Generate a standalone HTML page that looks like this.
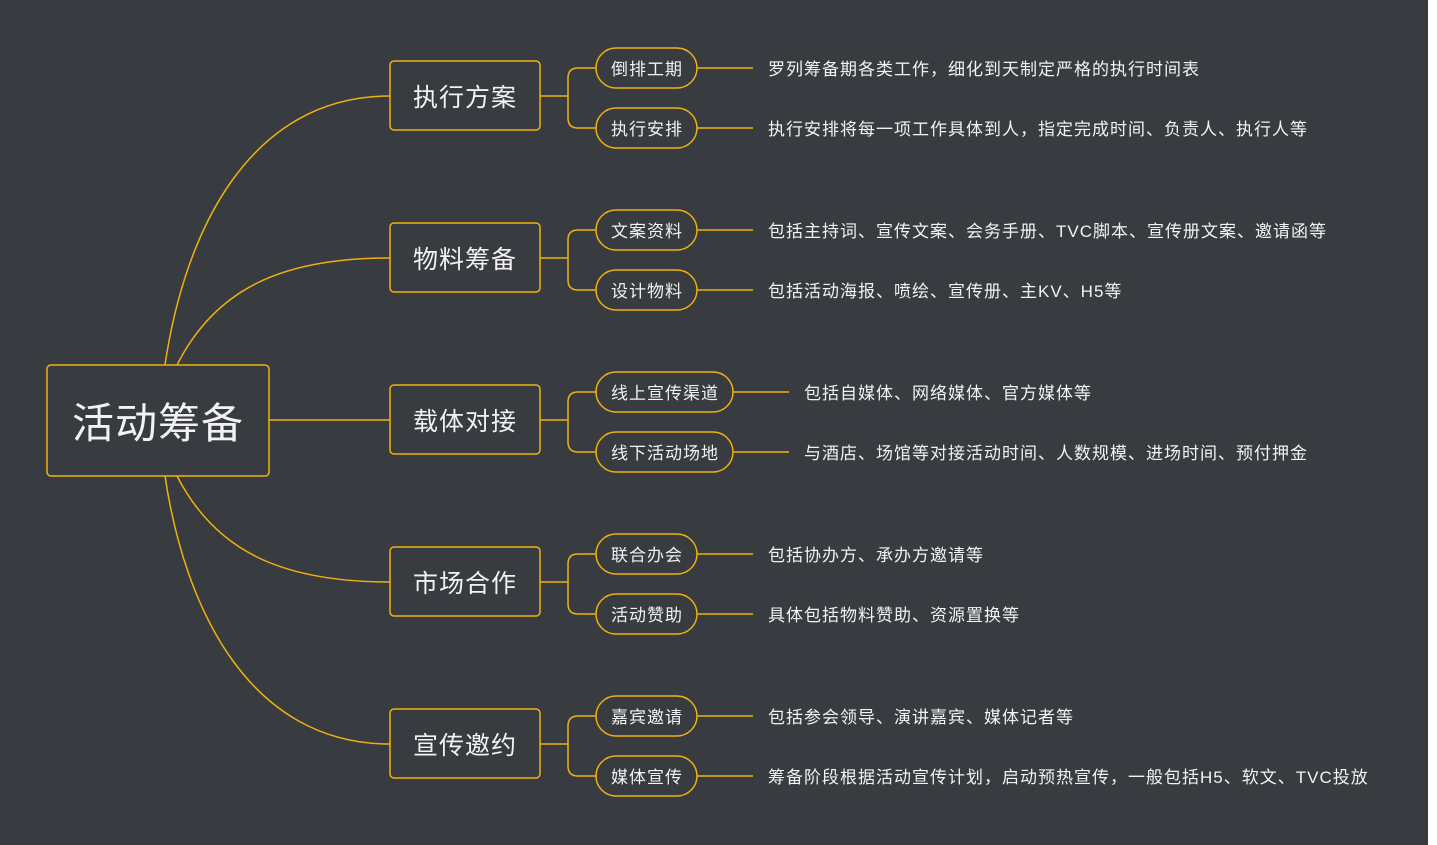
<!DOCTYPE html>
<html><head><meta charset="utf-8"><style>
body{margin:0;width:1437px;height:845px;background:#fff;overflow:hidden;font-family:"Liberation Sans","Noto Sans CJK SC",sans-serif;}
#bg{position:absolute;left:0;top:0;width:1428px;height:845px;background:#383b40;}
.t{position:absolute;color:#f2f2f2;white-space:nowrap;}
</style></head><body>
<div id="bg"></div>
<svg width="1437" height="845" style="position:absolute;left:0;top:0" fill="none" stroke="#f0b10e" stroke-width="1.5">
<rect x="47" y="365" width="222" height="111" rx="4"/>
<path d="M165 365 C185 230 250 96 390 96"/>
<path d="M177 365 C215 290 280 258 390 258"/>
<path d="M269 420 H390"/>
<path d="M177 476 C215 550 280 582 390 582"/>
<path d="M165 476 C185 610 250 744 390 744"/>
<rect x="390" y="61" width="150" height="69" rx="4"/>
<rect x="390" y="223" width="150" height="69" rx="4"/>
<rect x="390" y="385" width="150" height="69" rx="4"/>
<rect x="390" y="547" width="150" height="69" rx="4"/>
<rect x="390" y="709" width="150" height="69" rx="4"/>
<path d="M540 96 H568 M596 68 H578 Q568 68 568 78 V118 Q568 128 578 128 H596"/>
<path d="M540 258 H568 M596 230 H578 Q568 230 568 240 V280 Q568 290 578 290 H596"/>
<path d="M540 420 H568 M596 392 H578 Q568 392 568 402 V442 Q568 452 578 452 H596"/>
<path d="M540 582 H568 M596 554 H578 Q568 554 568 564 V604 Q568 614 578 614 H596"/>
<path d="M540 744 H568 M596 716 H578 Q568 716 568 726 V766 Q568 776 578 776 H596"/>
<rect x="596" y="48" width="101" height="40" rx="20"/><path d="M697 68 H753"/>
<rect x="596" y="108" width="101" height="40" rx="20"/><path d="M697 128 H753"/>
<rect x="596" y="210" width="101" height="40" rx="20"/><path d="M697 230 H753"/>
<rect x="596" y="270" width="101" height="40" rx="20"/><path d="M697 290 H753"/>
<rect x="596" y="372" width="137" height="40" rx="20"/><path d="M733 392 H789"/>
<rect x="596" y="432" width="137" height="40" rx="20"/><path d="M733 452 H789"/>
<rect x="596" y="534" width="101" height="40" rx="20"/><path d="M697 554 H753"/>
<rect x="596" y="594" width="101" height="40" rx="20"/><path d="M697 614 H753"/>
<rect x="596" y="696" width="101" height="40" rx="20"/><path d="M697 716 H753"/>
<rect x="596" y="756" width="101" height="40" rx="20"/><path d="M697 776 H753"/>
</svg>
<div class="t" style="left:47px;width:222px;text-align:center;top:396px;font-size:42px;line-height:56px;letter-spacing:1px">活动筹备</div>
<div style="font-size:25px;line-height:32px;letter-spacing:1px">
<div class="t" style="left:390px;width:150px;text-align:center;top:82px">执行方案</div>
<div class="t" style="left:390px;width:150px;text-align:center;top:244px">物料筹备</div>
<div class="t" style="left:390px;width:150px;text-align:center;top:406px">载体对接</div>
<div class="t" style="left:390px;width:150px;text-align:center;top:568px">市场合作</div>
<div class="t" style="left:390px;width:150px;text-align:center;top:730px">宣传邀约</div>
</div>
<div style="font-size:17px;line-height:24px;letter-spacing:1px">
<div class="t" style="left:611px;top:58px">倒排工期</div>
<div class="t" style="left:611px;top:118px">执行安排</div>
<div class="t" style="left:611px;top:220px">文案资料</div>
<div class="t" style="left:611px;top:280px">设计物料</div>
<div class="t" style="left:611px;top:382px">线上宣传渠道</div>
<div class="t" style="left:611px;top:442px">线下活动场地</div>
<div class="t" style="left:611px;top:544px">联合办会</div>
<div class="t" style="left:611px;top:604px">活动赞助</div>
<div class="t" style="left:611px;top:706px">嘉宾邀请</div>
<div class="t" style="left:611px;top:766px">媒体宣传</div>
<div class="t" style="left:768px;top:58px">罗列筹备期各类工作，细化到天制定严格的执行时间表</div>
<div class="t" style="left:768px;top:118px">执行安排将每一项工作具体到人，指定完成时间、负责人、执行人等</div>
<div class="t" style="left:768px;top:220px">包括主持词、宣传文案、会务手册、TVC脚本、宣传册文案、邀请函等</div>
<div class="t" style="left:768px;top:280px">包括活动海报、喷绘、宣传册、主KV、H5等</div>
<div class="t" style="left:804px;top:382px">包括自媒体、网络媒体、官方媒体等</div>
<div class="t" style="left:804px;top:442px">与酒店、场馆等对接活动时间、人数规模、进场时间、预付押金</div>
<div class="t" style="left:768px;top:544px">包括协办方、承办方邀请等</div>
<div class="t" style="left:768px;top:604px">具体包括物料赞助、资源置换等</div>
<div class="t" style="left:768px;top:706px">包括参会领导、演讲嘉宾、媒体记者等</div>
<div class="t" style="left:768px;top:766px">筹备阶段根据活动宣传计划，启动预热宣传，一般包括H5、软文、TVC投放</div>
</div>
</body></html>
